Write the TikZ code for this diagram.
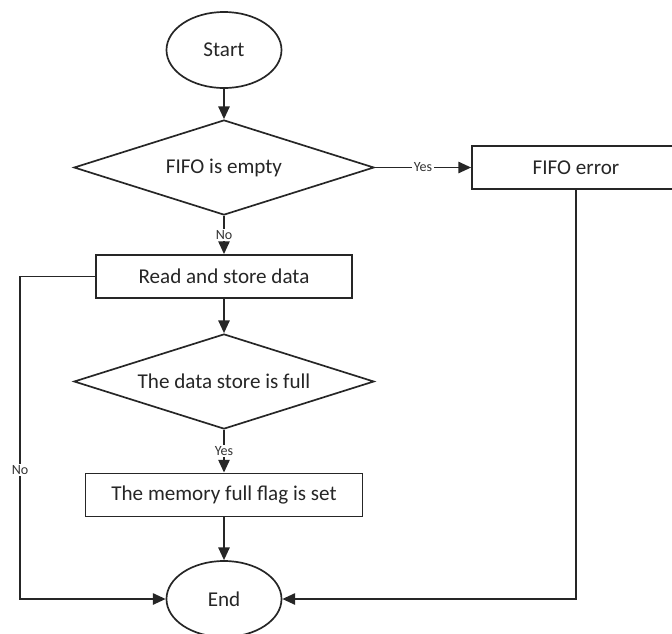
\documentclass[tikz,border=0pt]{standalone}
\usepackage{fontspec}
\setmainfont{Carlito}
\usetikzlibrary{shapes,arrows.meta,positioning}

\begin{document}
\begin{tikzpicture}[x=0.025cm, y=-0.025cm,
    term/.style={ellipse, draw=black!85, line width=1.2pt, minimum width=2.875cm, minimum height=1.9cm, inner sep=0pt, font=\fontsize{15}{17}\selectfont, text=black!85},
    proc/.style={rectangle, draw=black!85, line width=1.2pt, minimum height=1.08cm, inner sep=0pt, font=\fontsize{15}{17}\selectfont, text=black!85},
    decision/.style={diamond, draw=black!85, line width=1.2pt, aspect=3.16, minimum width=7.5cm, minimum height=2.375cm, inner sep=0pt, font=\fontsize{15}{17}\selectfont, text=black!85},
    lbl/.style={fill=white, inner sep=1pt, font=\fontsize{10}{12}\selectfont, text=black!80},
    arrow/.style={-{Triangle[length=9pt,width=8pt]}, line width=1.2pt, draw=black!85}
]
\useasboundingbox (0,0) rectangle (672,633);

% Nodes
\node[term] (start) at (224,50) {Start};
\node[decision] (empty) at (224,167.5) {FIFO is empty};
\node[proc, minimum width=5.2cm] (error) at (576,167.5) {FIFO error};
\node[proc, minimum width=6.4cm] (read) at (224,276.5) {Read and store data};
\node[decision] (full) at (224,381.5) {The data store is full};
\node[proc, minimum width=6.925cm] (flag) at (224,495) {The memory full flag is set};
\node[term] (end) at (224,599) {End};

% Loop corner
\coordinate (loopl) at (20,599);

% Connectors
\draw[arrow] (start) -- (empty);
\draw[arrow] (empty.east) -- node[lbl] {Yes} (error.west);
\draw[arrow] (empty.south) -- node[lbl] {No} (read.north);
\draw[arrow] (read) -- (full);
\draw[arrow] (full.south) -- node[lbl] {Yes} (flag.north);
\draw[arrow] (flag) -- (end);
\draw[arrow] (read.west) -| node[lbl, pos=0.8] {No} (loopl) -- (end.west);
\draw[arrow] (error.south) |- (end.east);

\end{tikzpicture}
\end{document}
